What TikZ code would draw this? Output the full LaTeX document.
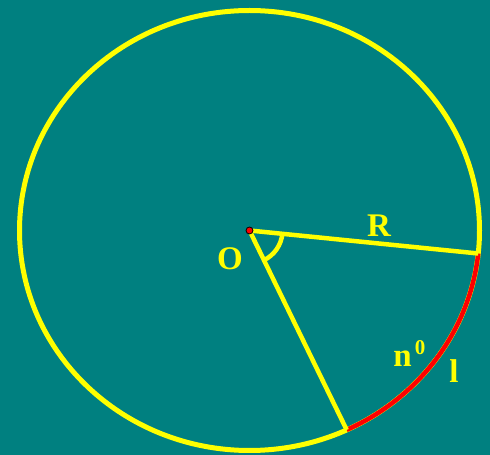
\documentclass[tikz,border=0pt]{standalone}
\usepackage{xcolor}
\usepackage{fontspec}
\setmainfont{Liberation Serif}
\usepackage{tikz}
\usetikzlibrary{calc}
\definecolor{board}{HTML}{008080}
\definecolor{chalk}{HTML}{FFFF00}
\definecolor{arcred}{HTML}{FF0000}

\begin{document}
\begin{tikzpicture}[x=1pt, y=1pt,
    rim/.style={draw=chalk, line width=5pt},
    radius line/.style={draw=chalk, line width=4.5pt},
    label/.style={text=chalk, font=\fontsize{33}{38}\selectfont\bfseries, inner sep=0pt, anchor=base}]
  % background and margins
  \fill[board] (0,0) rectangle (490,455);
  \useasboundingbox (0,0) rectangle (490,455);
  \coordinate (O) at (249.5,224.5);
  \coordinate (A) at ([shift={(O)}]-6:230 and 220);
  \coordinate (B) at ([shift={(O)}]-65:230 and 220);
  % circle
  \draw[rim] (O) ellipse[x radius=230, y radius=220];
  % arc l
  \draw[draw=arcred, line width=4.5pt] (A) arc[start angle=-6, end angle=-65, x radius=230, y radius=220];
  % radii and angle
  \draw[radius line] (O) -- (A);
  \draw[radius line] (O) -- (B);
  \draw[radius line] ([shift={(O)}]-5.7:33) arc[start angle=-5.7, end angle=-64, radius=33];
  \filldraw[fill=arcred, draw=black, line width=0.8pt] (O) circle[radius=3.5];
  % labels
  \node[label] (lO) at (230,185) {O};
  \node[label] (lR) at (379,218) {R};
  \node[label] (ln) at (402.5,88) {n};
  \node[label, font=\fontsize{21}{24}\selectfont\bfseries] (ldeg) at (420,100) {0};
  \node[label] (ll) at (454,72) {l};
\end{tikzpicture}
\end{document}
